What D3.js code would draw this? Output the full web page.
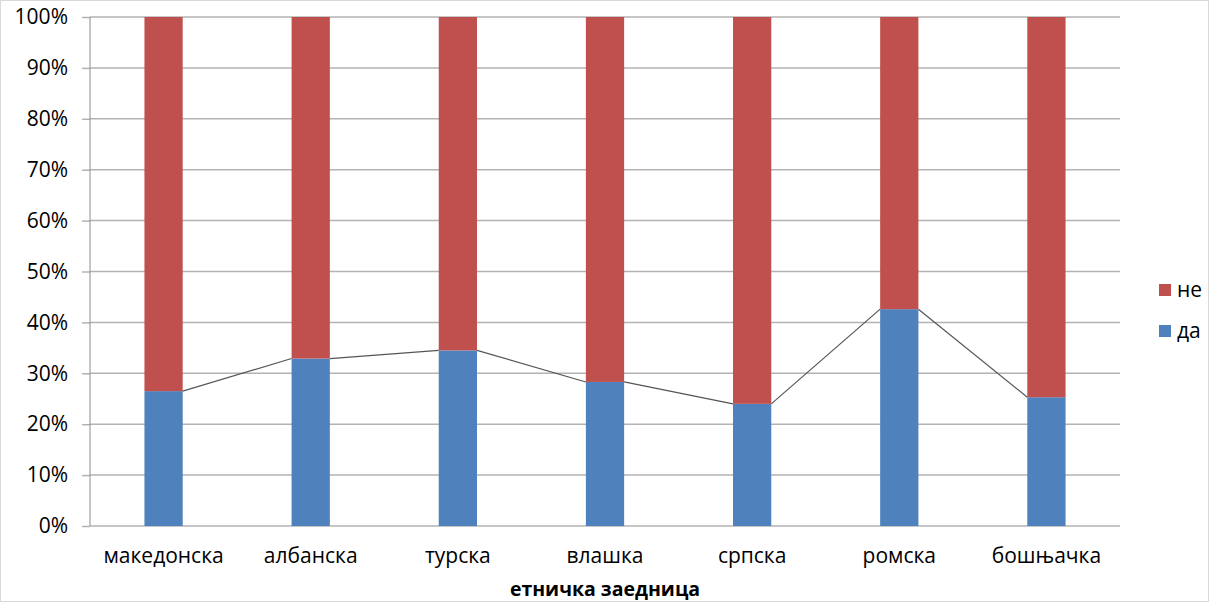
<!DOCTYPE html>
<html><head><meta charset="utf-8">
<script src="https://cdn.jsdelivr.net/npm/d3@7"></script>
<style>body{margin:0;background:#fff}svg{display:block;font-family:"Open Sans","Noto Sans",sans-serif}</style>
</head><body><div id="chart"></div>
<script>
const categories = ["македонска","албанска","турска","влашка","српска","ромска","бошњачка"];
const da = [26.5, 32.9, 34.5, 28.3, 24.0, 42.6, 25.3];
const ne = da.map(v => 100 - v);
const seriesNames = ["да","не"];
const yTicks = [0,10,20,30,40,50,60,70,80,90,100];
const colors = {"да":"#4F81BD","не":"#C0504D"};

const W=1209,H=602;
const svg=d3.select("#chart").append("svg").attr("width",W).attr("height",H);
svg.append("rect").attr("x",0.5).attr("y",0.5).attr("width",W-1).attr("height",H-1).attr("fill","#fff").attr("stroke","#d9d9d9");

const pL=90,pR=1120,pT=17,pB=526;
const x=d3.scaleBand().domain(categories).range([pL,pR]).paddingInner(0.74).paddingOuter(0.37);
const y=d3.scaleLinear().domain([0,100]).range([pB,pT]);

const yAxis=d3.axisLeft(y).tickValues(yTicks).tickFormat(d=>d+"%").tickSize(8).tickSizeOuter(0);
const gy=svg.append("g").attr("transform",`translate(${pL},0)`).call(yAxis);
gy.select(".domain").remove();
gy.attr("font-family",null).attr("font-size",21);
gy.selectAll(".tick line").attr("stroke","#b3b3b3").attr("stroke-width",1.5);
gy.selectAll(".tick text").attr("fill","#000").attr("x",-22);
svg.append("g").selectAll("line").data(yTicks).join("line")
 .attr("x1",pL).attr("x2",pR).attr("y1",d=>y(d)).attr("y2",d=>y(d))
 .attr("stroke","#b3b3b3").attr("stroke-width",1.5);
svg.append("line").attr("x1",pL).attr("x2",pL).attr("y1",pT).attr("y2",pB).attr("stroke","#8c8c8c").attr("stroke-width",1);

const data=categories.map((c,i)=>({cat:c,"да":da[i],"не":ne[i]}));
const stack=d3.stack().keys(seriesNames)(data);
svg.append("g").selectAll("g").data(stack).join("g").attr("fill",d=>colors[d.key])
 .selectAll("rect").data(d=>d).join("rect")
 .attr("x",d=>x(d.data.cat)).attr("width",x.bandwidth())
 .attr("y",d=>y(d[1])).attr("height",d=>y(d[0])-y(d[1]));

// series lines
const segs=[];
for(let i=0;i<data.length-1;i++){
  segs.push([[x(data[i].cat)+x.bandwidth(),y(data[i]["да"])],[x(data[i+1].cat),y(data[i+1]["да"])]]);
}
svg.append("g").selectAll("line").data(segs).join("line")
 .attr("x1",d=>d[0][0]).attr("y1",d=>d[0][1]).attr("x2",d=>d[1][0]).attr("y2",d=>d[1][1])
 .attr("stroke","#555").attr("stroke-width",1.2);

svg.append("g").selectAll("text").data(categories).join("text")
 .attr("x",d=>x(d)+x.bandwidth()/2).attr("y",563).attr("text-anchor","middle")
 .attr("font-size",21).attr("fill","#000").text(d=>d);
svg.append("text").attr("x",(pL+pR)/2).attr("y",596).attr("text-anchor","middle")
 .attr("font-size",19.5).attr("font-weight","bold").attr("fill","#000").text("етничка заедница");

const leg=[{k:"не",y:290},{k:"да",y:331}];
const lg=svg.append("g").selectAll("g").data(leg).join("g");
lg.append("rect").attr("x",1159).attr("y",d=>d.y-6).attr("width",12).attr("height",12).attr("fill",d=>colors[d.k]);
lg.append("text").attr("x",1177).attr("y",d=>d.y+7).attr("font-size",21).attr("fill","#000").text(d=>d.k);
</script></body></html>
